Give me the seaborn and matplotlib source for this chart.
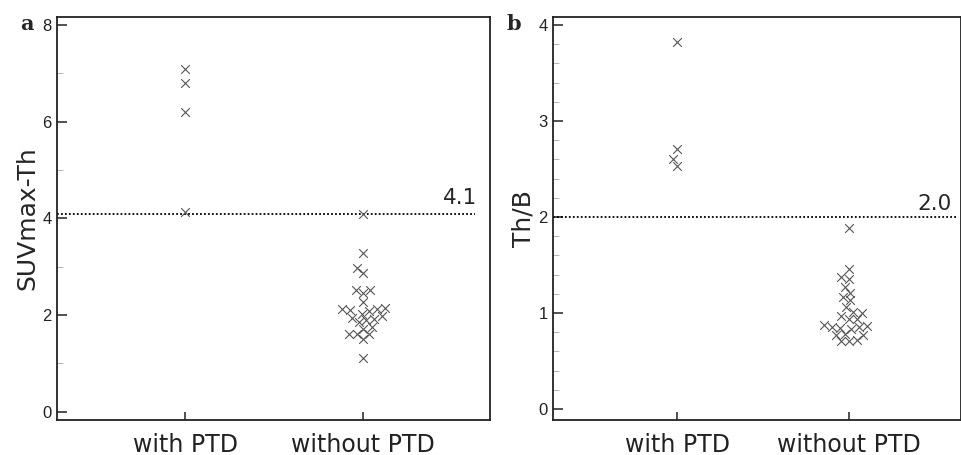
import numpy as np
import pandas as pd
import matplotlib
matplotlib.use("Agg")
import matplotlib.pyplot as plt
from matplotlib.ticker import MultipleLocator
import seaborn as sns

groups = ["with PTD", "without PTD"]

suv_with = [7.09, 6.81, 6.20, 4.13]
suv_without = [4.09, 3.29, 2.97, 2.87, 2.53, 2.53, 2.45, 2.28, 2.15, 2.13,
               2.10, 2.13, 2.08, 2.03, 1.98, 1.95, 1.90, 1.92, 1.85, 1.75,
               1.72, 1.60, 1.60, 1.60, 1.50, 1.12]

thb_with = [3.82, 2.71, 2.60, 2.53]
thb_without = [1.88, 1.46, 1.35, 1.37, 1.27, 1.21, 1.17, 1.13, 1.06, 0.97,
               1.01, 1.00, 0.94, 0.94, 0.85, 0.85, 0.84, 0.83, 0.86, 0.87,
               0.77, 0.78, 0.77, 0.71, 0.72, 0.71]

cut_suv = 4.1
cut_thb = 2.0

df_a = pd.DataFrame({"group": [groups[0]] * len(suv_with) + [groups[1]] * len(suv_without),
                     "value": suv_with + suv_without})
df_b = pd.DataFrame({"group": [groups[0]] * len(thb_with) + [groups[1]] * len(thb_without),
                     "value": thb_with + thb_without})

sns.set_style("ticks")
plt.rcParams["font.family"] = ["DejaVu Sans"]

fig = plt.figure(figsize=(9.62, 4.55), dpi=100)
ax1 = fig.add_axes([0.0593, 0.0769, 0.450, 0.886])
ax2 = fig.add_axes([0.575, 0.0769, 0.424, 0.886])

mcol = "#555555"
for ax, df in [(ax1, df_a), (ax2, df_b)]:
    sns.swarmplot(data=df, x="group", y="value", order=groups, ax=ax,
                  marker="x", color=mcol, size=4.7, linewidth=0.8)

ax1.set_xlim(-0.72, 1.713)
ax1.set_ylim(-0.17, 8.17)
ax2.set_xlim(-0.722, 1.653)
ax2.set_ylim(-0.115, 4.084)

ax1.yaxis.set_major_locator(MultipleLocator(2))
ax1.yaxis.set_minor_locator(MultipleLocator(1))
ax2.yaxis.set_major_locator(MultipleLocator(1))
ax2.yaxis.set_minor_locator(MultipleLocator(0.2))

ax1.axhline(cut_suv, xmin=0, xmax=0.965, color="black", linestyle=(0, (1, 1.2)), linewidth=1.3)
ax2.axhline(cut_thb, xmin=0, xmax=0.99, color="black", linestyle=(0, (1, 1.2)), linewidth=1.3)
ax1.text(0.93, cut_suv + 0.12, "4.1", transform=ax1.get_yaxis_transform(),
         ha="center", va="bottom", fontsize=15.5)
ax2.text(0.935, cut_thb + 0.03, "2.0", transform=ax2.get_yaxis_transform(),
         ha="center", va="bottom", fontsize=15.5)

ax1.set_ylabel("SUVmax-Th", fontsize=18, labelpad=2)
ax2.set_ylabel("Th/B", fontsize=18, labelpad=2)

for ax in (ax1, ax2):
    ax.set_xlabel("")
    for s in ax.spines.values():
        s.set_visible(True)
        s.set_linewidth(1.3)
        s.set_color("#222222")
    ax.tick_params(axis="y", which="major", direction="in", length=7, width=1.1,
                   labelsize=12, colors="#222222", pad=4)
    ax.tick_params(axis="y", which="minor", direction="in", length=4, width=0.6,
                   color="#aaaaaa")
    ax.tick_params(axis="x", which="major", direction="in", length=6, width=1.1,
                   labelsize=17, pad=9, colors="#222222")
    for lab in ax.get_yticklabels():
        lab.set_family(["Liberation Sans", "DejaVu Sans"])

fig.text(0.021, 0.935, "a", fontsize=15, fontweight="bold", family=["DejaVu Serif"])
fig.text(0.527, 0.935, "b", fontsize=15, fontweight="bold", family=["DejaVu Serif"])

# let seaborn lay out the swarm with a compact spacing, then enlarge the markers
fig.canvas.draw()
for ax in (ax1, ax2):
    for coll in ax.collections:
        if "draw" in coll.__dict__:
            del coll.__dict__["draw"]
        coll.set_sizes([6.2 ** 2])

fig.savefig("out.png", dpi=100)
